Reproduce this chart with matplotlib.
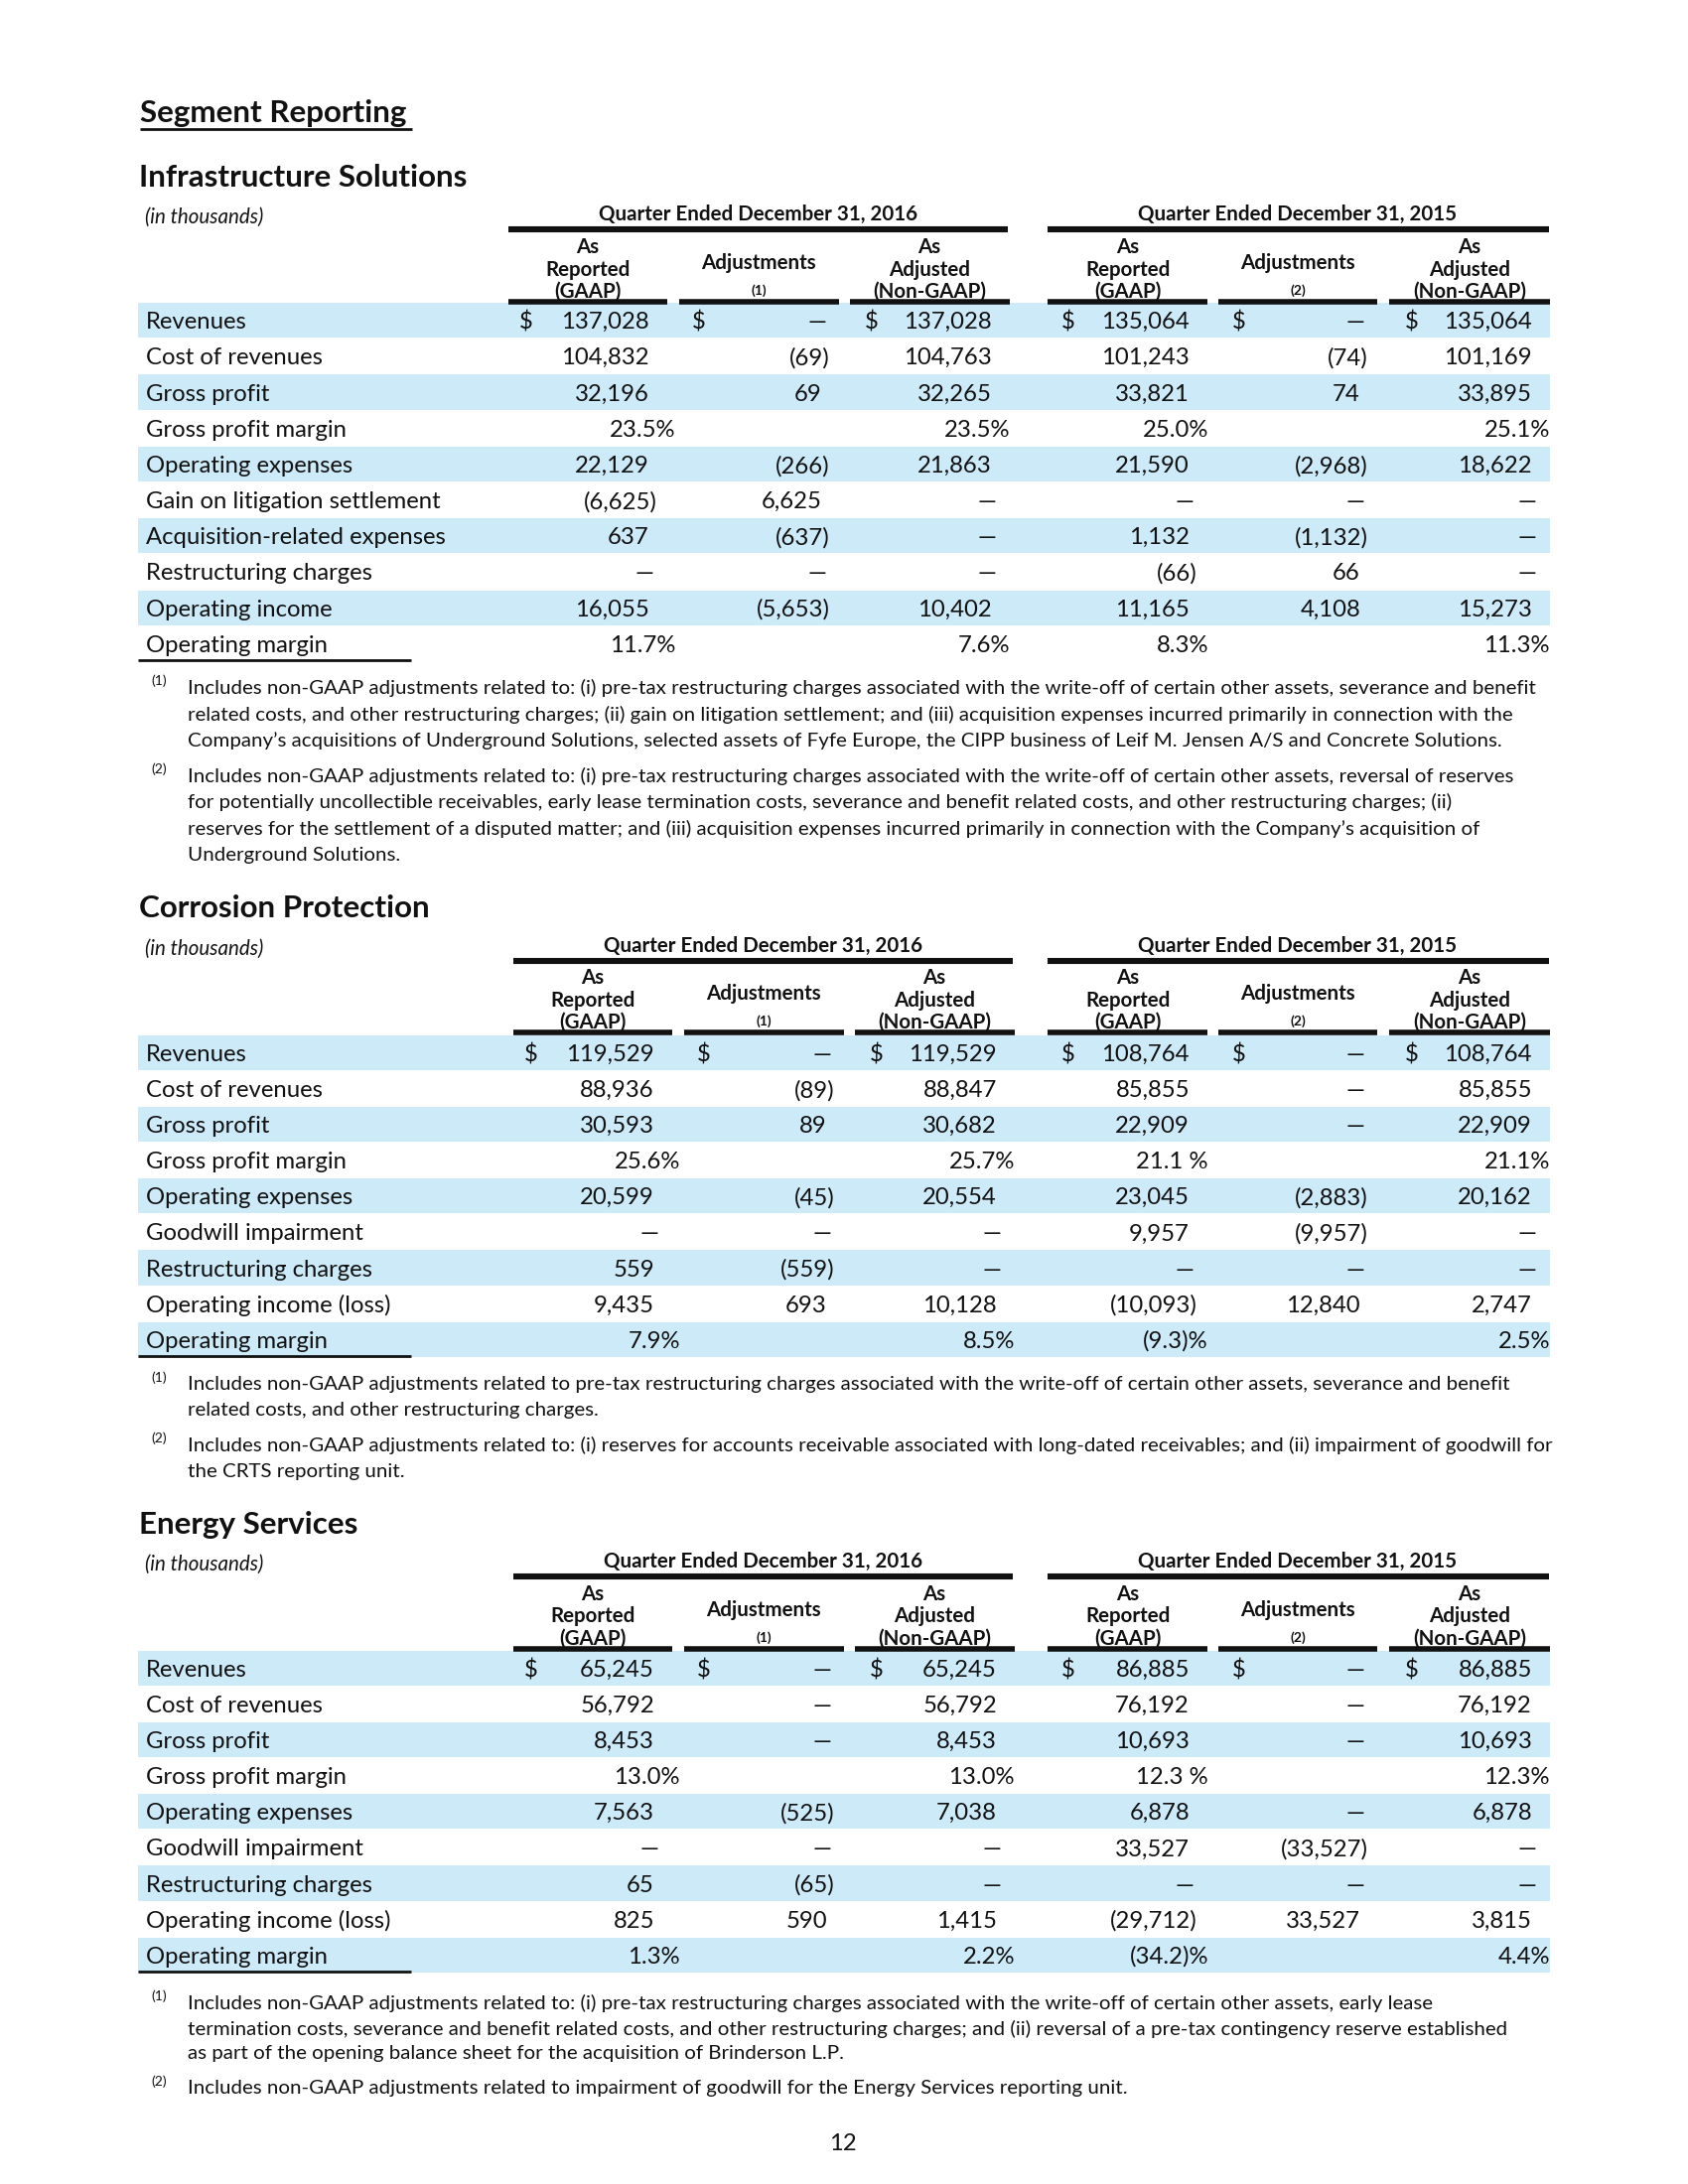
import matplotlib
matplotlib.use("Agg")
import matplotlib.pyplot as plt

plt.rcParams['font.family'] = ['Lato', 'DejaVu Sans']

BLUE = '#cdeaf9'
INK = '#111111'

# ---------------- data ----------------
infra_labels = ['Revenues', 'Cost of revenues', 'Gross profit', 'Gross profit margin',
                'Operating expenses', 'Gain on litigation settlement',
                'Acquisition-related expenses', 'Restructuring charges',
                'Operating income', 'Operating margin']
infra_rep16 = ['137,028', '104,832', '32,196', '23.5%', '22,129', '(6,625)', '637', '—', '16,055', '11.7%']
infra_adj16 = ['—', '(69)', '69', '', '(266)', '6,625', '(637)', '—', '(5,653)', '']
infra_ng16 = ['137,028', '104,763', '32,265', '23.5%', '21,863', '—', '—', '—', '10,402', '7.6%']
infra_rep15 = ['135,064', '101,243', '33,821', '25.0%', '21,590', '—', '1,132', '(66)', '11,165', '8.3%']
infra_adj15 = ['—', '(74)', '74', '', '(2,968)', '—', '(1,132)', '66', '4,108', '']
infra_ng15 = ['135,064', '101,169', '33,895', '25.1%', '18,622', '—', '—', '—', '15,273', '11.3%']
infra_notes1 = [
    "Includes non-GAAP adjustments related to: (i) pre-tax restructuring charges associated with the write-off of certain other assets, severance and benefit",
    "related costs, and other restructuring charges; (ii) gain on litigation settlement; and (iii) acquisition expenses incurred primarily in connection with the",
    "Company’s acquisitions of Underground Solutions, selected assets of Fyfe Europe, the CIPP business of Leif M. Jensen A/S and Concrete Solutions.",
]
infra_notes2 = [
    "Includes non-GAAP adjustments related to: (i) pre-tax restructuring charges associated with the write-off of certain other assets, reversal of reserves",
    "for potentially uncollectible receivables, early lease termination costs, severance and benefit related costs, and other restructuring charges; (ii)",
    "reserves for the settlement of a disputed matter; and (iii) acquisition expenses incurred primarily in connection with the Company’s acquisition of",
    "Underground Solutions.",
]

corr_labels = ['Revenues', 'Cost of revenues', 'Gross profit', 'Gross profit margin',
               'Operating expenses', 'Goodwill impairment', 'Restructuring charges',
               'Operating income (loss)', 'Operating margin']
corr_rep16 = ['119,529', '88,936', '30,593', '25.6%', '20,599', '—', '559', '9,435', '7.9%']
corr_adj16 = ['—', '(89)', '89', '', '(45)', '—', '(559)', '693', '']
corr_ng16 = ['119,529', '88,847', '30,682', '25.7%', '20,554', '—', '—', '10,128', '8.5%']
corr_rep15 = ['108,764', '85,855', '22,909', '21.1 %', '23,045', '9,957', '—', '(10,093)', '(9.3)%']
corr_adj15 = ['—', '—', '—', '', '(2,883)', '(9,957)', '—', '12,840', '']
corr_ng15 = ['108,764', '85,855', '22,909', '21.1%', '20,162', '—', '—', '2,747', '2.5%']
corr_notes1 = [
    "Includes non-GAAP adjustments related to pre-tax restructuring charges associated with the write-off of certain other assets, severance and benefit",
    "related costs, and other restructuring charges.",
]
corr_notes2 = [
    "Includes non-GAAP adjustments related to: (i) reserves for accounts receivable associated with long-dated receivables; and (ii) impairment of goodwill for",
    "the CRTS reporting unit.",
]

energy_labels = corr_labels
energy_rep16 = ['65,245', '56,792', '8,453', '13.0%', '7,563', '—', '65', '825', '1.3%']
energy_adj16 = ['—', '—', '—', '', '(525)', '—', '(65)', '590', '']
energy_ng16 = ['65,245', '56,792', '8,453', '13.0%', '7,038', '—', '—', '1,415', '2.2%']
energy_rep15 = ['86,885', '76,192', '10,693', '12.3 %', '6,878', '33,527', '—', '(29,712)', '(34.2)%']
energy_adj15 = ['—', '—', '—', '', '—', '(33,527)', '—', '33,527', '']
energy_ng15 = ['86,885', '76,192', '10,693', '12.3%', '6,878', '—', '—', '3,815', '4.4%']
energy_notes1 = [
    "Includes non-GAAP adjustments related to: (i) pre-tax restructuring charges associated with the write-off of certain other assets, early lease",
    "termination costs, severance and benefit related costs, and other restructuring charges; and (ii) reversal of a pre-tax contingency reserve established",
    "as part of the opening balance sheet for the acquisition of Brinderson L.P.",
]
energy_notes2 = [
    "Includes non-GAAP adjustments related to impairment of goodwill for the Energy Services reporting unit.",
]

group_titles = ['Quarter Ended December 31, 2016', 'Quarter Ended December 31, 2015']

# ---------------- layout (pixels on a 1700x2200 page) ----------------
fig = plt.figure(figsize=(8.5, 11), dpi=200)
ax = fig.add_axes([0, 0, 1, 1])
ax.set_xlim(0, 1700)
ax.set_ylim(2200, 0)
ax.axis('off')

ROW_FS = 8.6
HDR_FS = 7.4
NOTE_FS = 7.37
TITLE_FS = 11.3

# column geometry: dollar x, value right edge, pct right edge, underline span, header centre
cols = [
    dict(d=523, v=654, p=680, span=(512, 672), c=592),
    dict(d=697, v=828, p=None, span=(684, 845), c=764),
    dict(d=871, v=999, p=1017, span=(856, 1017), c=936),
    dict(d=1069, v=1198, p=1217, span=(1055, 1216), c=1136),
    dict(d=1241, v=1370, p=None, span=(1227, 1387), c=1307),
    dict(d=1415, v=1543, p=1561, span=(1399, 1561), c=1480),
]
PAREN = 8
DASH = 4


def hline(x0, x1, y, lw):
    ax.plot([x0, x1], [y, y], color=INK, lw=lw, solid_capstyle='butt')


def draw_table(title, title_y, grp_y, hdr_y, first_y, step, labels, columns,
               shaded, notes, note_ys, shift, adj_marks):
    ax.text(140, title_y, title, fontsize=TITLE_FS, fontweight='bold', color=INK,
            ha='left', va='center_baseline')
    ax.text(146, grp_y, '(in thousands)', fontsize=HDR_FS, style='italic',
            color=INK, ha='left', va='center_baseline')
    # group headers
    offs = [shift, shift, shift, 0, 0, 0]
    ax.text(764 + shift, grp_y - 3, group_titles[0], fontsize=HDR_FS, fontweight='bold',
            color=INK, ha='center', va='center_baseline')
    ax.text(1307, grp_y - 3, group_titles[1], fontsize=HDR_FS, fontweight='bold',
            color=INK, ha='center', va='center_baseline')
    hline(512 + shift, 1015 + shift, grp_y + 14, 2.2)
    hline(1055, 1560, grp_y + 14, 2.2)

    # column headers
    y1, y2, y3 = hdr_y - 3, hdr_y + 19.5, hdr_y + 42
    for i, col in enumerate(cols):
        cx = col['c'] + offs[i]
        if i in (1, 4):
            ax.text(cx, y1 + 16, 'Adjustments', fontsize=HDR_FS, fontweight='bold',
                    color=INK, ha='center', va='center_baseline')
            ax.text(cx, y3, adj_marks[0 if i == 1 else 1], fontsize=5, fontweight='bold',
                    color=INK, ha='center', va='center_baseline')
        else:
            mid = 'Reported' if i in (0, 3) else 'Adjusted'
            bot = '(GAAP)' if i in (0, 3) else '(Non-GAAP)'
            for yy, t in zip((y1, y2, y3), ('As', mid, bot)):
                ax.text(cx, yy, t, fontsize=HDR_FS, fontweight='bold', color=INK,
                        ha='center', va='center_baseline')
        s0, s1 = col['span']
        hline(s0 + offs[i], s1 + offs[i], hdr_y + 54, 2.0)

    # rows
    for r, lab in enumerate(labels):
        yc = first_y + r * step
        if shaded[r]:
            ax.fill_between([139, 1561], yc - step / 2 + 0.5, yc + step / 2 - 0.5,
                            color=BLUE, lw=0, zorder=0)
        ax.text(147, yc, lab, fontsize=ROW_FS, color=INK, ha='left', va='center_baseline')
        for i, col in enumerate(cols):
            val = columns[i][r]
            o = offs[i]
            if r == 0:
                ax.text(col['d'] + o, yc, '$', fontsize=ROW_FS, color=INK,
                        ha='left', va='center_baseline')
            if not val:
                continue
            if val.endswith('%'):
                x = col['p'] + o
            elif val.startswith('('):
                x = col['v'] + o + PAREN
            elif val == '—':
                x = col['v'] + o + DASH
            else:
                x = col['v'] + o
            ax.text(x, yc, val, fontsize=ROW_FS, color=INK, ha='right', va='center_baseline')

    last_y = first_y + (len(labels) - 1) * step
    hline(139, 414, last_y + 17, 1.0)

    # footnotes
    for k, (lines, ys) in enumerate(zip(notes, note_ys)):
        ax.text(152, ys[0] - 6, '(%d)' % (k + 1), fontsize=5, color=INK,
                ha='left', va='center_baseline')
        for line, yy in zip(lines, ys):
            ax.text(189, yy, line, fontsize=NOTE_FS, color=INK, ha='left',
                    va='center_baseline')


# page heading
ax.text(141, 112, 'Segment Reporting', fontsize=TITLE_FS, fontweight='bold', color=INK,
        ha='left', va='center_baseline')
hline(141, 415, 130, 1.0)

shade10 = [True, False] * 5
shade9 = [True, False, True, False, True, False, True, False, True]

draw_table('Infrastructure Solutions', 177, 217, 250, 322.6, 36.2, infra_labels,
           [infra_rep16, infra_adj16, infra_ng16, infra_rep15, infra_adj15, infra_ng15],
           shade10, [infra_notes1, infra_notes2],
           [[691, 718, 745], [780, 806, 833, 860]], 0, ['(1)', '(2)'])

draw_table('Corrosion Protection', 913, 954, 986, 1060.4, 36.1, corr_labels,
           [corr_rep16, corr_adj16, corr_ng16, corr_rep15, corr_adj15, corr_ng15],
           shade9, [corr_notes1, corr_notes2],
           [[1393, 1419], [1454, 1481]], 5, ['(1)', '(2)'])

draw_table('Energy Services', 1533, 1574, 1607, 1680.4, 36.1, energy_labels,
           [energy_rep16, energy_adj16, energy_ng16, energy_rep15, energy_adj15, energy_ng15],
           shade9, [energy_notes1, energy_notes2],
           [[2016, 2042, 2067], [2102]], 5, ['(1)', '(2)'])

ax.text(849, 2157, '12', fontsize=8.6, color=INK, ha='center', va='center_baseline')

fig.savefig('out.png', dpi=200, facecolor='white')
